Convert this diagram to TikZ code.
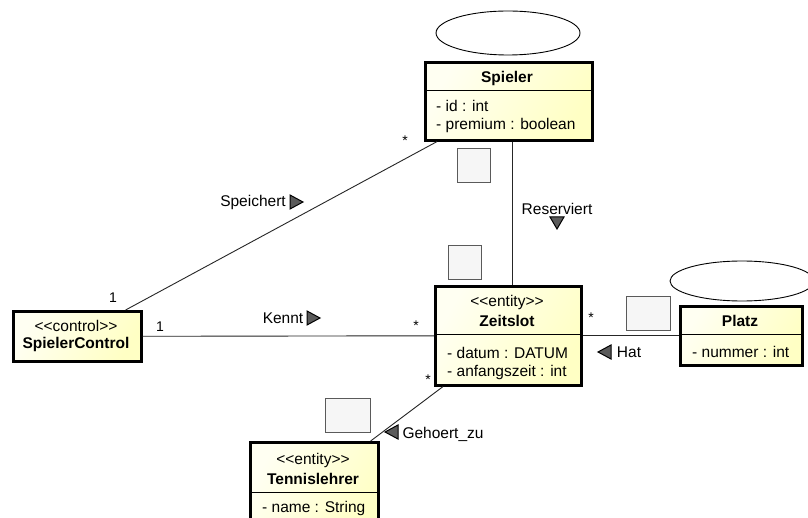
\documentclass[tikz,border=0pt]{standalone}
\usepackage{fontspec}
\setmainfont{Liberation Sans}
\usetikzlibrary{calc,shapes.geometric}
\definecolor{ylight}{RGB}{255,255,242}
\definecolor{ydark}{RGB}{255,255,196}
\definecolor{notefill}{RGB}{246,246,246}
\definecolor{notedraw}{RGB}{90,90,90}
\definecolor{trifill}{RGB}{90,90,90}
\newcommand{\guil}[1]{<\kern0pt<#1>\kern0pt>}
\tikzset{
  classbox/.style={draw=black, line width=2.6pt, left color=ylight, right color=ydark, shading angle=60, inner sep=0pt, anchor=north west},
  divider/.style={draw=black, line width=1pt},
  conn/.style={draw=black!85, line width=0.9pt},
  notebox/.style={draw=notedraw, line width=0.7pt, fill=notefill, inner sep=0pt, anchor=north west},
  oval/.style={draw=black, line width=0.9pt, ellipse, inner sep=0pt},
  txt/.style={inner sep=0pt, font=\fontsize{15.5}{18}\selectfont},
  btxt/.style={inner sep=0pt, font=\fontsize{15.5}{18}\selectfont\bfseries},
  mult/.style={inner sep=0pt, font=\fontsize{14}{16}\selectfont},
  tri/.style={draw=black, line width=1pt, fill=trifill, line join=miter},
}
\begin{document}
\begin{tikzpicture}[x=1pt,y=-1pt]
\clip (0,0) rectangle (808,518);
\fill[white] (0,0) rectangle (808,518);

% ellipses
\node[oval, minimum width=144pt, minimum height=44pt] (ov1) at (508,33) {};
\node[oval, minimum width=144pt, minimum height=40pt] (ov2) at (742,281) {};

% class boxes
\node[classbox, minimum width=167pt, minimum height=78pt] (spieler) at (424,61) {};
\node[classbox, minimum width=146pt, minimum height=99pt] (zeitslot) at (434,285) {};
\node[classbox, minimum width=122pt, minimum height=59pt] (platz) at (679,305) {};
\node[classbox, minimum width=128pt, minimum height=50pt] (ctrl) at (12,310) {};
\node[classbox, minimum width=128pt, minimum height=95pt] (tennis) at (249,441) {};

% dividers
\draw[divider] (424,91) -- (591,91);
\draw[divider] (434,335) -- (580,335);
\draw[divider] (679,335) -- (801,335);
\draw[divider] (249,492) -- (377,492);

% texts
\node[btxt] (tSp) at (507,78) {Spieler};
\node[txt, anchor=west] (tSp1) at (436,106) {- id : int};
\node[txt, anchor=west] (tSp2) at (436,125) {- premium : boolean};

\node[txt] (tZe0) at (507,302) {\guil{entity}};
\node[btxt] (tZe) at (507,321) {Zeitslot};
\node[txt, anchor=west] (tZe1) at (447,353) {- datum : DATUM};
\node[txt, anchor=west] (tZe2) at (447,372) {- anfangszeit : int};

\node[btxt] (tPl) at (740,321) {Platz};
\node[txt, anchor=west] (tPl1) at (692,352) {- nummer : int};

\node[txt] (tCt0) at (76,326) {\guil{control}};
\node[btxt] (tCt) at (76,344) {SpielerControl};

\node[txt] (tTe0) at (313,460) {\guil{entity}};
\node[btxt] (tTe) at (313,479) {Tennislehrer};
\node[txt, anchor=west] (tTe1) at (262,508) {- name : String};

% notes
\node[notebox, minimum width=33pt, minimum height=34pt] (n1) at (457,148) {};
\node[notebox, minimum width=33pt, minimum height=34pt] (n2) at (448,245) {};
\node[notebox, minimum width=44pt, minimum height=34pt] (n3) at (626,296) {};
\node[notebox, minimum width=45pt, minimum height=34pt] (n4) at (325,398) {};

% connectors
\draw[conn] ([xshift=13pt]spieler.south west) -- ([xshift=-17pt]ctrl.north east);
\draw[conn] ([xshift=4pt]spieler.south) -- ([xshift=4pt]spieler.south |- zeitslot.north);
\draw[conn] (ctrl.east) -- (zeitslot.west);
\draw[conn] (zeitslot.east) -- (platz.west);
\draw[conn] ([xshift=9pt]zeitslot.south west) -- ([xshift=-9pt]tennis.north east);

% multiplicities
\node[mult] (m1) at (405,141) {*};
\node[mult] (m2) at (113,298) {1};
\node[mult] (m3) at (160,327) {1};
\node[mult] (m4) at (416,326) {*};
\node[mult] (m5) at (591,318) {*};
\node[mult] (m6) at (428,380) {*};

% association labels
\node[txt] (lSp) at (253,202) {Speichert};
\draw[tri] (290,195) -- (303,202) -- (290,209) -- cycle;
\node[txt] (lRe) at (557,209) {Reserviert};
\draw[tri] (550,217) -- (564,217) -- (557,229) -- cycle;
\node[txt] (lKe) at (283,318) {Kennt};
\draw[tri] (307,311) -- (320,318) -- (307,325) -- cycle;
\node[txt] (lHa) at (629,352) {Hat};
\draw[tri] (611,345) -- (598,352) -- (611,359) -- cycle;
\node[txt] (lGe) at (443,434) {Gehoert\_zu};
\draw[tri] (398,425) -- (385,432) -- (398,439) -- cycle;
\end{tikzpicture}
\end{document}
